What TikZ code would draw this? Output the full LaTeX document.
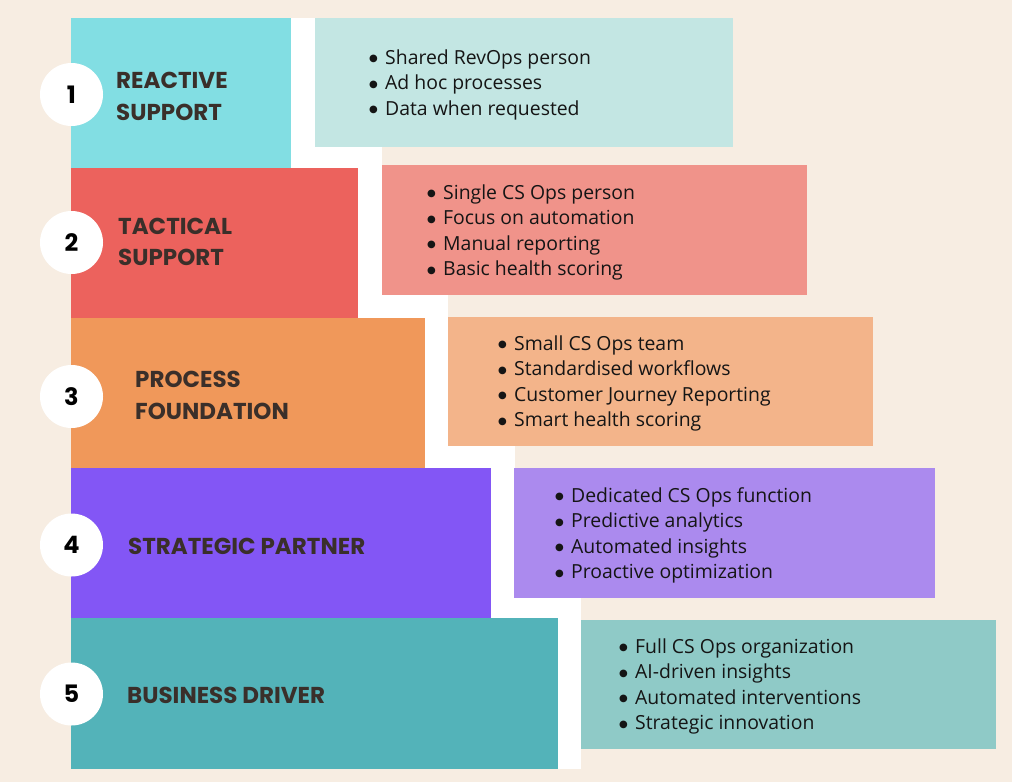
\documentclass[tikz,border=0pt]{standalone}
\usepackage{fontspec}
\setmainfont{Open Sans}
\newfontfamily\titlefont{Poppins}
\newfontfamily\symfont{DejaVu Sans}
\definecolor{bgc}{HTML}{F7EDE2}
\definecolor{barA}{HTML}{82DEE3}
\definecolor{barB}{HTML}{EC625D}
\definecolor{barC}{HTML}{F0985A}
\definecolor{barD}{HTML}{8356F5}
\definecolor{barE}{HTML}{53B3B9}
\definecolor{boxA}{HTML}{C3E6E3}
\definecolor{boxB}{HTML}{F0938A}
\definecolor{boxC}{HTML}{F3B48A}
\definecolor{boxD}{HTML}{AB8AEE}
\definecolor{boxE}{HTML}{8FCAC7}
\definecolor{titlec}{HTML}{3A2F2A}
\definecolor{itemc}{HTML}{151515}
\tikzset{
  rect/.style={anchor=north west, inner sep=0pt, outer sep=0pt, draw=none},
  numcirc/.style={circle, fill=white, minimum size=63pt, inner sep=0pt,
    font=\titlefont\bfseries\fontsize{24}{24}\selectfont, text=black},
  ttl/.style={anchor=base west, inner sep=0pt, text=titlec,
    font=\titlefont\bfseries\fontsize{23}{23}\selectfont},
  itm/.style={anchor=base west, inner sep=0pt, text=itemc,
    font=\fontsize{19.4}{19.4}\selectfont},
}
\newcommand{\bul}{\llap{\makebox[16pt][l]{\raisebox{2.5pt}{\symfont\fontsize{10}{10}\selectfont●}}}}
\begin{document}
\begin{tikzpicture}[x=1pt,y=-1pt]
\useasboundingbox (0,0) rectangle (1012,782);
\fill[bgc] (0,0) rectangle (1012,782);
% white steps
\node[rect, fill=white, minimum width=311, minimum height=150] (w1) at (71,18) {};
\node[rect, fill=white, minimum width=377, minimum height=150] (w2) at (71,168) {};
\node[rect, fill=white, minimum width=444, minimum height=150] (w3) at (71,318) {};
\node[rect, fill=white, minimum width=510, minimum height=150] (w4) at (71,468) {};
\node[rect, fill=white, minimum width=510, minimum height=151] (w5) at (71,618) {};
% bars
\node[rect, fill=barA, minimum width=220, minimum height=150] (bar1) at (71,18) {};
\node[rect, fill=barB, minimum width=287, minimum height=150] (bar2) at (71,168) {};
\node[rect, fill=barC, minimum width=354, minimum height=150] (bar3) at (71,318) {};
\node[rect, fill=barD, minimum width=420, minimum height=150] (bar4) at (71,468) {};
\node[rect, fill=barE, minimum width=487, minimum height=151] (bar5) at (71,618) {};
% text boxes
\node[rect, fill=boxA, minimum width=418, minimum height=129] (box1) at (315,18) {};
\node[rect, fill=boxB, minimum width=425, minimum height=130] (box2) at (382,165) {};
\node[rect, fill=boxC, minimum width=425, minimum height=129] (box3) at (448,317) {};
\node[rect, fill=boxD, minimum width=421, minimum height=130] (box4) at (514,468) {};
\node[rect, fill=boxE, minimum width=415, minimum height=129] (box5) at (581,620) {};
% circles
\node[numcirc] (c1) at (71.5,94.5) {1};
\node[numcirc] (c2) at (71.5,242.5) {2};
\node[numcirc] (c3) at (71.5,396.5) {3};
\node[numcirc] (c4) at (71.5,545) {4};
\node[numcirc] (c5) at (71.5,694) {5};
% titles
\node[ttl] (t1a) at (116,88) {REACTIVE};
\node[ttl] (t1b) at (116,120) {SUPPORT};
\node[ttl] (t2a) at (118,234) {TACTICAL};
\node[ttl] (t2b) at (118,265) {SUPPORT};
\node[ttl] (t3a) at (135,387) {PROCESS};
\node[ttl] (t3b) at (135,419) {FOUNDATION};
\node[ttl] (t4a) at (128,554) {STRATEGIC PARTNER};
\node[ttl] (t5a) at (127,703) {BUSINESS DRIVER};
% items
\foreach \t [count=\i] in {Shared RevOps person, Ad hoc processes, Data when requested}
  \node[itm] (i1-\i) at (385,{64+(\i-1)*25.5}) {\bul\t};
\foreach \t [count=\i] in {Single CS Ops person, Focus on automation, Manual reporting, Basic health scoring}
  \node[itm] (i2-\i) at (443,{199+(\i-1)*25.6}) {\bul\t};
\foreach \t [count=\i] in {Small CS Ops team, Standardised workflows, Customer Journey Reporting, Smart health scoring}
  \node[itm] (i3-\i) at (514,{350+(\i-1)*25.6}) {\bul\t};
\foreach \t [count=\i] in {Dedicated CS Ops function, Predictive analytics, Automated insights, Proactive optimization}
  \node[itm] (i4-\i) at (571,{502+(\i-1)*25.6}) {\bul\t};
\foreach \t [count=\i] in {Full CS Ops organization, AI-driven insights, Automated interventions, Strategic innovation}
  \node[itm] (i5-\i) at (635,{653+(\i-1)*25.6}) {\bul\t};
\end{tikzpicture}
\end{document}
